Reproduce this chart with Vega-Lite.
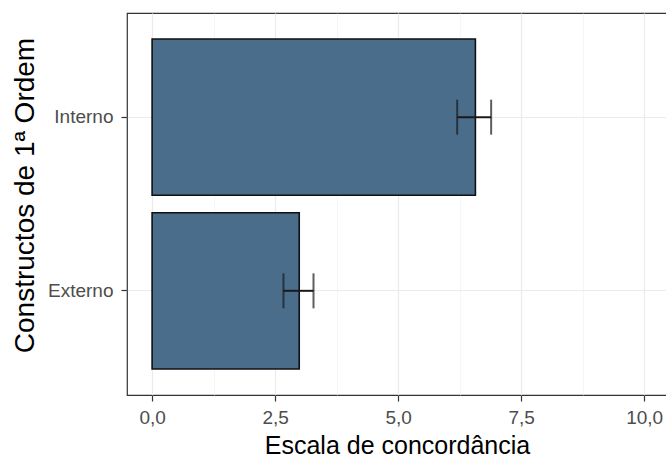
{
  "$schema": "https://vega.github.io/schema/vega-lite/v6.json",
  "autosize": "none",
  "padding": {"left": 127, "top": 13, "right": 0, "bottom": 62},
  "width": 560,
  "height": 382,
  "background": "white",
  "config": {
    "font": "Liberation Sans",
    "view": {"stroke": "#333333", "strokeWidth": 1.2},
    "axis": {"domain": false, "gridColor": "#ebebeb", "tickColor": "#333333", "tickSize": 6, "tickWidth": 1.2, "labelColor": "#4d4d4d", "labelFontSize": 19, "titleFontSize": 25, "titleFontWeight": "normal", "titleColor": "#000000"}
  },
  "data": {"values": [
    {"constructo": "Interno", "media": 6.57, "lo": 6.2, "hi": 6.89},
    {"constructo": "Externo", "media": 2.99, "lo": 2.67, "hi": 3.28}
  ]},
  "encoding": {
    "y": {"field": "constructo", "type": "nominal", "sort": ["Interno", "Externo"],
      "scale": {"paddingInner": 0.1, "paddingOuter": 0.15},
      "axis": {"title": "Constructos de 1ª Ordem", "titleFontSize": 28, "titleY": 182, "grid": true, "gridWidth": 1.2, "labelPadding": 8, "titlePadding": 8}}
  },
  "resolve": {"axis": {"x": "independent"}},
  "layer": [
    {
      "mark": {"type": "rule", "opacity": 0},
      "encoding": {
        "x": {"field": "media", "type": "quantitative", "scale": {"domain": [-0.51, 10.87], "nice": false, "zero": false},
          "axis": {"orient": "bottom", "values": [1.25, 3.75, 6.25, 8.75, 11.25], "grid": true, "gridWidth": 0.6, "gridColor": "#f0f0f0", "labels": false, "ticks": false, "title": null}}
      }
    },
    {
      "mark": {"type": "bar", "fill": "#4a6d8c", "stroke": "#111111", "strokeWidth": 1.6},
      "encoding": {
        "x": {"field": "media", "type": "quantitative",
          "axis": {"orient": "bottom", "values": [0, 2.5, 5, 7.5, 10], "grid": true, "gridWidth": 1.2, "labelExpr": "replace(format(datum.value, '.1f'), '.', ',')", "labelPadding": 7, "title": "Escala de concordância", "titlePadding": 6, "titleX": 270}},
        "x2": {"datum": 0}
      }
    },
    {
      "mark": {"type": "rule", "color": "#1a1a1a", "strokeWidth": 2},
      "encoding": {
        "x": {"field": "lo", "type": "quantitative", "axis": null},
        "x2": {"field": "hi"}
      }
    },
    {
      "mark": {"type": "tick", "color": "#1a1a1a", "thickness": 2, "size": 35, "orient": "vertical"},
      "encoding": {"x": {"field": "lo", "type": "quantitative", "axis": null}}
    },
    {
      "mark": {"type": "tick", "color": "#1a1a1a", "thickness": 2, "size": 35, "orient": "vertical"},
      "encoding": {"x": {"field": "hi", "type": "quantitative", "axis": null}}
    }
  ]
}
